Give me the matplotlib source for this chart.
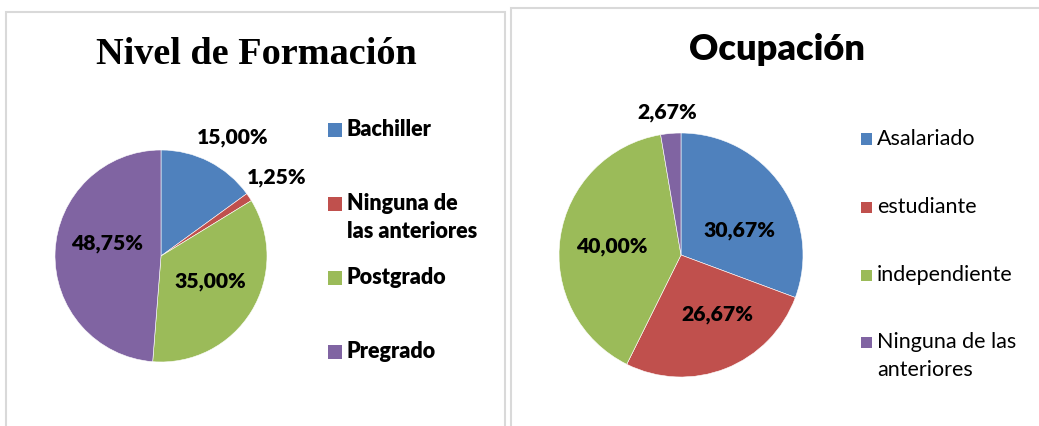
import matplotlib.pyplot as plt
from matplotlib.patches import Rectangle

# datos
formacion_labels = ['Bachiller', 'Ninguna de\nlas anteriores', 'Postgrado', 'Pregrado']
formacion_vals = [15.00, 1.25, 35.00, 48.75]
ocupacion_labels = ['Asalariado', 'estudiante', 'independiente', 'Ninguna de las\nanteriores']
ocupacion_vals = [30.67, 26.67, 40.00, 2.67]
colores = ['#4F81BD', '#C0504D', '#9BBB59', '#8064A2']

W, H = 1039, 426
fig = plt.figure(figsize=(W / 100, H / 100), dpi=100)


def px(x, y):
  return x / W, 1 - y / H


def pie_axes(cx, cy, r):
  x0, y0 = px(cx - r, cy + r)
  return fig.add_axes([x0, y0, 2 * r / W, 2 * r / H])


def fmt(v):
  return ('%.2f%%' % v).replace('.', ',')


def draw_pie(ax, vals, label_pos):
  ax.pie(vals, colors=colores, startangle=90, counterclock=False, radius=1,
         wedgeprops=dict(edgecolor='white', linewidth=0.4))
  ax.set_xlim(-1, 1)
  ax.set_ylim(-1, 1)
  ax.set_aspect('auto')
  ax.axis('off')
  for v, (lx, ly) in zip(vals, label_pos):
    ax.text(lx, ly, fmt(v), ha='center', va='center', fontsize=15.2,
            fontweight='heavy', family='Lato', color='black', clip_on=False)


def draw_legend(entries, x_sq, size, x_txt, ys, weight):
  for col, (lab, yc) in zip(colores, zip(entries, ys)):
    lines = lab.split('\n')
    x0, y0 = px(x_sq, yc + size / 2)
    fig.add_artist(Rectangle((x0, y0), size / W, size / H, transform=fig.transFigure,
                             facecolor=col, edgecolor='none'))
    for i, line in enumerate(lines):
      tx, ty = px(x_txt, yc + i * 28)
      fig.text(tx, ty, line, ha='left', va='center', fontsize=15.5,
               fontweight=weight, family='Lato')


# marcos de los paneles
for (x0p, y0p, x1p, y1p) in [(6, 12, 505, 440), (511, 8, 1050, 440)]:
  bx, by = px(x0p, y1p)
  fig.add_artist(Rectangle((bx, by), (x1p - x0p) / W, (y1p - y0p) / H,
                           transform=fig.transFigure, facecolor='none',
                           edgecolor='#D9D9D9', linewidth=1.5))

# panel izquierdo
ax1 = pie_axes(161, 256, 106)
draw_pie(ax1, formacion_vals, [(0.68, 1.12), (1.09, 0.745), (0.47, -0.24), (-0.51, 0.12)])
tx, ty = px(256, 55)
fig.text(tx, ty, 'Nivel de Formación', ha='center', va='center', fontsize=27.5,
         fontweight='bold', family='Liberation Serif')
draw_legend(formacion_labels, 328, 14, 347, [130, 204, 278, 352], 'heavy')

# panel derecho
ax2 = pie_axes(681, 255, 122)
draw_pie(ax2, ocupacion_vals, [(0.48, 0.2), (0.30, -0.49), (-0.57, 0.066), (-0.115, 1.17)])
tx, ty = px(777, 50)
fig.text(tx, ty, 'Ocupación', ha='center', va='center', fontsize=26,
         fontweight='heavy', family='Lato')
draw_legend(ocupacion_labels, 861, 11, 877, [139, 207, 275, 342], 'normal')

fig.savefig('out.png', dpi=100)
